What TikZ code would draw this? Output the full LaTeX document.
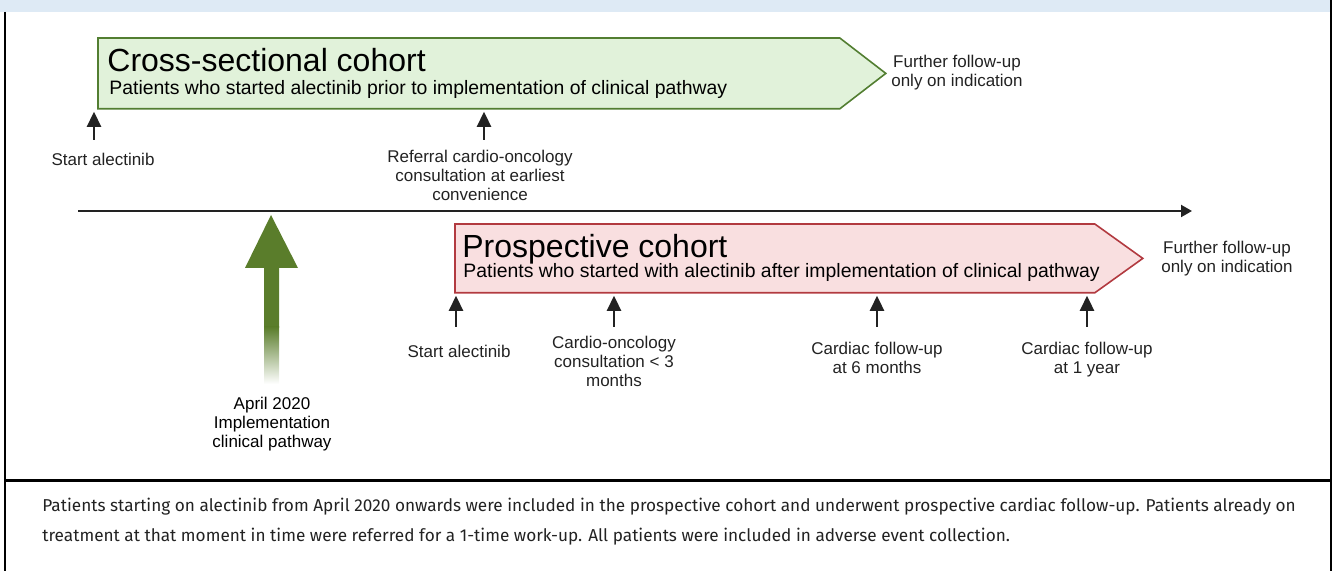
\documentclass[tikz,border=0pt]{standalone}
\usepackage{fontspec}
\setmainfont{Liberation Sans}
\newfontfamily\notefont{Fira Sans}
\usepackage{xcolor}
\usepackage{tikz}
\usetikzlibrary{arrows.meta,positioning}
\usetikzlibrary{calc}
\definecolor{bandblue}{HTML}{DEEAF5}
\definecolor{csfill}{HTML}{E1F2DA}
\definecolor{csdraw}{HTML}{527E31}
\definecolor{pcfill}{HTML}{F9DFE0}
\definecolor{pcdraw}{HTML}{B23A40}
\definecolor{pathgreen}{HTML}{5A7D2B}
\definecolor{inkgray}{HTML}{222222}

\begin{document}
\begin{tikzpicture}[x=0.5pt,y=-0.5pt]
    \tikzstyle{every node}=[font=\fontsize{8.5}{9.5}\selectfont, inner sep=0pt, text=inkgray]
    \tikzstyle{tick}=[-{Triangle[length=7.5pt,width=7pt]}, line width=1.3pt, draw=inkgray]
    \tikzstyle{lbl}=[align=center, anchor=north]
    \tikzstyle{title}=[font=\fontsize{16}{18}\selectfont, anchor=base west, text=black]
    \tikzstyle{subtitle}=[font=\fontsize{9.7}{11}\selectfont, anchor=base west, text=black]
    \useasboundingbox (0,0) rectangle (1335,571); %
    % frame
    \fill[bandblue] (0,0) rectangle (1331,12); %
    \draw[line width=0.8pt] (5,12) -- (5,571); %
    \draw[line width=0.8pt] (1331,0) -- (1331,571); %
    \draw[line width=1.5pt] (5,481) -- (1331,481); %
    % cross-sectional cohort
    \node[minimum width=370.5pt, minimum height=35pt, anchor=north west] (cs) at (98,38) {}; %
    \draw[csdraw, fill=csfill, line width=0.8pt] (cs.north west) -- (cs.north east) -- ($(cs.east)+(46,0)$) -- (cs.south east) -- (cs.south west) -- cycle; %
    \node[title] (csT) at ($(cs.north west)+(9,34)$) {Cross-sectional cohort}; %
    \node[subtitle] (csS) at ($(cs.north west)+(11,57)$) {Patients who started alectinib prior to implementation of clinical pathway}; %
    \node[lbl] (csEnd) at (957,55) {Further follow-up\\only on indication}; %
    \node[lbl] (csStart) at (103,153) {Start alectinib}; %
    \node[lbl] (csRef) at (480,150) {Referral cardio-oncology\\consultation at earliest\\convenience}; %
    \coordinate (csA1) at (94,140); %
    \coordinate (csA2) at (484,140); %
    \draw[tick] (csA1) -- ([yshift=-1.5pt]csA1 |- cs.south); %
    \draw[tick] (csA2) -- ([yshift=-1.5pt]csA2 |- cs.south); %
    % time line
    \coordinate (tl0) at (78,211); %
    \coordinate (tl1) at (1192,211); %
    \draw[-{Triangle[length=5.5pt,width=6pt]}, line width=1pt, draw=inkgray] (tl0) -- (tl1); %
    % implementation arrow
    \fill[pathgreen] (271,215) -- (298,268) -- (279,268) -- (279,328) -- (264,328) -- (264,268) -- (245,268) -- cycle; %
    \shade[top color=pathgreen, bottom color=white] (264,327) rectangle (279,384); %
    \node[lbl, text=black] (impl) at (272,397) {April 2020\\Implementation\\clinical pathway}; %
    % prospective cohort
    \node[minimum width=319.5pt, minimum height=34pt, anchor=north west] (pc) at (455,224) {}; %
    \draw[pcdraw, fill=pcfill, line width=0.8pt] (pc.north west) -- (pc.north east) -- ($(pc.east)+(48,0)$) -- (pc.south east) -- (pc.south west) -- cycle; %
    \node[title] (pcT) at ($(pc.north west)+(7,34)$) {Prospective cohort}; %
    \node[subtitle] (pcS) at ($(pc.north west)+(8,54)$) {Patients who started with alectinib after implementation of clinical pathway}; %
    \node[lbl] (pcEnd) at (1227,241) {Further follow-up\\only on indication}; %
    \node[lbl] (pcStart) at (459,345) {Start alectinib}; %
    \node[lbl] (pcCons) at (614,336) {Cardio-oncology\\consultation < 3\\months}; %
    \node[lbl] (pcSix) at (877,342) {Cardiac follow-up\\at 6 months}; %
    \node[lbl] (pcYear) at (1087,342) {Cardiac follow-up\\at 1 year}; %
    \coordinate (pcA1) at (456,327); %
    \coordinate (pcA2) at (614,327); %
    \coordinate (pcA3) at (877,327); %
    \coordinate (pcA4) at (1087,327); %
    \draw[tick] (pcA1) -- ([yshift=-1.5pt]pcA1 |- pc.south); %
    \draw[tick] (pcA2) -- ([yshift=-1.5pt]pcA2 |- pc.south); %
    \draw[tick] (pcA3) -- ([yshift=-1.5pt]pcA3 |- pc.south); %
    \draw[tick] (pcA4) -- ([yshift=-1.5pt]pcA4 |- pc.south); %
    % caption
    \node[anchor=north west, align=left, font=\notefont\fontsize{8.6}{15}\selectfont] (note) at (42,498) {Patients starting on alectinib from April 2020 onwards were included in the prospective cohort and underwent prospective cardiac follow-up. Patients already on\\treatment at that moment in time were referred for a 1-time work-up. All patients were included in adverse event collection.}; %
\end{tikzpicture}
\end{document}
